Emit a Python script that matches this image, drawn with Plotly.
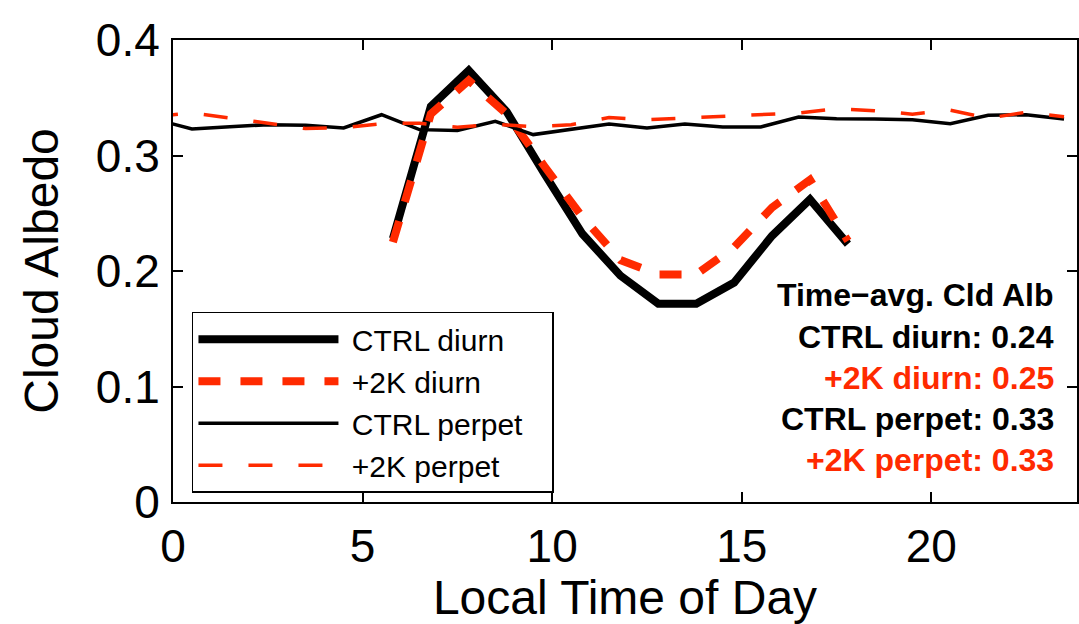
import plotly.graph_objects as go

# ---------------- data ----------------
perpet_hours = [0.5, 1.5, 2.5, 3.5, 4.5, 5.5, 6.5, 7.5, 8.5, 9.5, 10.5, 11.5,
                12.5, 13.5, 14.5, 15.5, 16.5, 17.5, 18.5, 19.5, 20.5, 21.5, 22.5, 23.5]
ctrl_perpet = [0.3230, 0.3250, 0.3267, 0.3261, 0.3239, 0.3353, 0.3224, 0.3216,
               0.3296, 0.3181, 0.3224, 0.3273, 0.3239, 0.3273, 0.3247, 0.3247,
               0.3333, 0.3319, 0.3315, 0.3310, 0.3276, 0.3348, 0.3353, 0.3316]
p2k_perpet = [0.3368, 0.3325, 0.3276, 0.3233, 0.3241, 0.3276, 0.3280, 0.3245,
              0.3270, 0.3250, 0.3267, 0.3328, 0.3310, 0.3323, 0.3336, 0.3353,
              0.3368, 0.3405, 0.3388, 0.3358, 0.3392, 0.3323, 0.3375, 0.3336]

diurn_hours = [5.8, 6.8, 7.8, 8.8, 9.8, 10.8, 11.8, 12.8, 13.8, 14.8, 15.8, 16.8, 17.8]
ctrl_diurn = [0.228, 0.3425, 0.3736, 0.338, 0.284, 0.232, 0.196, 0.1716, 0.1716,
              0.190, 0.2305, 0.262, 0.2233]
p2k_diurn = [0.225, 0.336, 0.365, 0.336, 0.2905, 0.2466, 0.2095, 0.197, 0.197,
             0.2207, 0.255, 0.279, 0.226]

series_names = ["CTRL diurn", "+2K diurn", "CTRL perpet", "+2K perpet"]

x_ticks = [0, 5, 10, 15, 20]
y_ticks = [0, 0.1, 0.2, 0.3, 0.4]
y_ticktext = ["0", "0.1", "0.2", "0.3", "0.4"]

avg_title = "Time\u2212avg. Cld Alb"
avg_labels = ["CTRL diurn: 0.24", "+2K diurn: 0.25", "CTRL perpet: 0.33", "+2K perpet: 0.33"]

RED = "#ff2a00"
FONT = "Liberation Sans, Arial, Helvetica, sans-serif"
NB = "\u00a0"


# periodic wrap so the perpetual curves reach the left edge
def wrap(h, v):
    return [h[-1] - 24] + list(h), [v[-1]] + list(v)


def lname(s):
    return NB + s + NB + NB + NB


fig = go.Figure()
fig.add_trace(go.Scatter(x=diurn_hours, y=ctrl_diurn, mode="lines", name=lname(series_names[0]),
                         line=dict(color="black", width=8)))
fig.add_trace(go.Scatter(x=diurn_hours, y=p2k_diurn, mode="lines", name=lname(series_names[1]),
                         line=dict(color=RED, width=8, dash="22px,20px")))
xw, yw = wrap(perpet_hours, ctrl_perpet)
fig.add_trace(go.Scatter(x=xw, y=yw, mode="lines", name=lname(series_names[2]),
                         line=dict(color="black", width=3.5)))
xw, yw = wrap(perpet_hours, p2k_perpet)
fig.add_trace(go.Scatter(x=xw, y=yw, mode="lines", name=lname(series_names[3]),
                         line=dict(color=RED, width=3.5, dash="24px,26px")))

# plot area: x 173..1079, y 40..504
L, R, T, B = 173, 0, 40, 120
W, H = 1079, 624
pw, ph = W - L - R, H - T - B


def px_x(p):
    return (p - L) / pw


def px_y(p):
    return (H - B - p) / ph


colors = ["black", "black", RED, "black", RED]
texts = [avg_title] + avg_labels
ys = [296, 338, 379, 421, 462]
for t, c, yy in zip(texts, colors, ys):
    fig.add_annotation(text=t, x=px_x(1058), y=px_y(yy), xref="paper", yref="paper",
                       xanchor="right", yanchor="middle", showarrow=False,
                       font=dict(family=FONT, size=32, color=c, weight="bold"))

axis_common = dict(showline=True, linecolor="black", linewidth=2, mirror="ticks",
                   ticks="inside", ticklen=10, tickwidth=1.5, tickcolor="black",
                   showgrid=False, zeroline=False,
                   tickfont=dict(family=FONT, size=46, color="black"))

fig.update_xaxes(range=[0, pw / 38.0], tickvals=x_ticks,
                 ticktext=[str(v) for v in x_ticks],
                 title=dict(text="Local Time of Day", font=dict(family=FONT, size=48, color="black"),
                            standoff=18),
                 ticklabelstandoff=3, **axis_common)
fig.update_yaxes(range=[0, 0.4], tickvals=y_ticks,
                 ticktext=y_ticktext,
                 title=dict(text="Cloud Albedo", font=dict(family=FONT, size=48, color="black"),
                            standoff=22),
                 ticklabelstandoff=2, **axis_common)

fig.update_layout(
    width=W, height=H, margin=dict(l=L, r=R, t=T, b=B, pad=0),
    paper_bgcolor="white", plot_bgcolor="white",
    font=dict(family=FONT, color="black"),
    showlegend=True,
    legend=dict(x=px_x(192), y=px_y(313), xanchor="left", yanchor="top",
                bgcolor="white", bordercolor="black", borderwidth=1.5,
                font=dict(family=FONT, size=30, color="black"),
                itemwidth=140, tracegroupgap=0),
)

fig.write_html("out.html")
